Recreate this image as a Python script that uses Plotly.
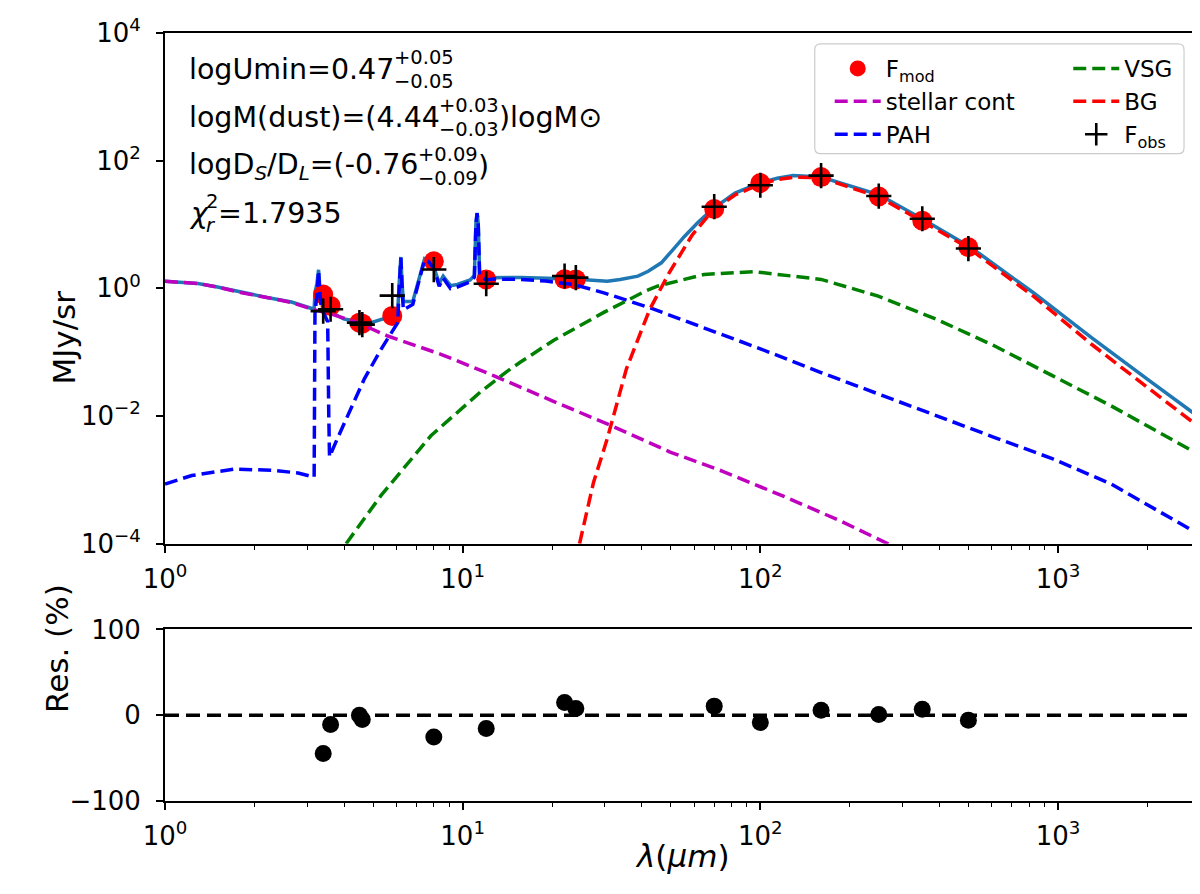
import numpy as np
import plotly.graph_objects as go

# photometry: band wavelengths (micron), model and observed fluxes (MJy/sr)
lam_obs = [3.4, 3.6, 4.5, 4.6, 5.8, 8.0, 12.0, 22.0, 24.0, 70.0, 100.0, 160.0, 250.0, 350.0, 500.0]
f_mod = [0.80, 0.53, 0.29, 0.28, 0.37, 2.66, 1.38, 1.39, 1.38, 17.5, 44.6, 55.3, 27.5, 11.5, 4.40]
f_obs = [0.44, 0.47, 0.29, 0.27, 0.77, 1.97, 1.18, 1.56, 1.47, 19.0, 41.2, 58.3, 27.9, 12.3, 4.20]

# residuals (%)
lam_res = [3.4, 3.6, 4.5, 4.6, 8.0, 12.0, 22.0, 24.0, 70.0, 100.0, 160.0, 250.0, 350.0, 500.0]
res_pct = [-44.5, -10.7, 0.0, -4.9, -25.5, -15.4, 14.9, 7.9, 10.6, -8.6, 5.9, 0.8, 7.1, -5.9]

# model components
lam_star = [1.0, 1.29, 1.5, 1.81, 2.2, 2.66, 3.18, 3.6, 4.44, 5.6, 8.45, 12.75, 20.0, 30.6, 50.0, 75.1, 120.0,
            184.6, 264.6, 300.0]
f_star = [1.29, 1.19, 1.05, 0.85, 0.72, 0.60, 0.46, 0.40, 0.29, 0.179, 0.0927, 0.0426, 0.0173, 0.0075, 0.0027,
          0.00135, 0.00055, 0.00023, 0.000103, 0.00008]

lam_pah = [1.0, 1.23, 1.72, 2.34, 2.8, 3.1, 3.17, 3.18, 3.19, 3.24, 3.28, 3.31, 3.35, 3.45, 3.52, 3.55, 3.57,
           3.8, 4.11, 4.67, 5.32, 6.05, 6.12, 6.2, 6.26, 6.32, 6.8, 7.15, 7.45, 7.7, 8.03, 8.34, 8.6, 9.1, 9.6,
           10.6, 10.95, 11.08, 11.18, 11.28, 11.4, 12.0, 12.7, 15.6, 19.0, 23.6, 29.8, 42.5, 64.7, 101.0,
           160.0, 249.0, 391.0, 613.0, 961.0, 1505.0, 3090.0]
f_pah = [8.6e-4, 1.17e-3, 1.48e-3, 1.40e-3, 1.28e-3, 1.14e-3, 1.1e-3, 0.02, 0.40, 0.8, 1.9, 0.9, 0.5, 0.37,
         0.30, 0.01, 2.3e-3, 4.5e-3, 0.0101, 0.0378, 0.111, 0.29, 1.0, 3.0, 1.0, 0.46, 0.56, 1.3, 2.8, 2.6,
         1.97, 1.08, 1.46, 0.99, 1.05, 1.26, 1.5, 10.0, 15.0, 10.0, 1.6, 1.35, 1.4, 1.38, 1.3, 1.15, 0.85,
         0.497, 0.242, 0.111, 0.048, 0.022, 0.0101, 0.0046, 0.00213, 8.65e-4, 1.27e-4]

lam_vsg = [4.06, 5.32, 7.82, 11.5, 14.1, 15.65, 20.3, 29.8, 41.6, 45.1, 64.7, 95.5, 160.0, 249.0, 391.0,
           613.0, 961.0, 1505.0, 3090.0]
f_vsg = [1e-4, 5.7e-4, 4.9e-3, 0.024, 0.050, 0.070, 0.155, 0.42, 0.93, 1.08, 1.65, 1.82, 1.38, 0.755,
         0.327, 0.125, 0.0425, 0.0145, 0.00226]

lam_bg = [24.7, 27.5, 30.6, 35.5, 42.5, 49.4, 59.1, 69.1, 82.2, 100.0, 115.0, 130.0, 160.0, 250.0, 350.0,
          500.0, 827.0, 1296.0, 2032.0, 3090.0]
f_bg = [1e-4, 9e-4, 0.0044, 0.055, 0.468, 1.75, 6.9, 16.5, 29.0, 43.0, 51.0, 55.0, 54.0, 27.0, 11.2, 4.3,
        0.755, 0.133, 0.0264, 0.0059]

lam_tot = [1.0, 1.29, 1.5, 1.81, 2.2, 2.66, 3.0, 3.17, 3.19, 3.24, 3.28, 3.31, 3.36, 3.45, 3.6, 4.0, 4.5,
           4.92, 5.6, 6.05, 6.12, 6.2, 6.26, 6.32, 6.8, 7.15, 7.45, 7.7, 8.03, 8.34, 8.6, 9.1, 9.6, 10.6,
           10.95, 11.08, 11.18, 11.28, 11.4, 12.1, 15.65, 23.6, 30.6, 33.8, 38.8, 42.0, 46.5, 50.9, 55.6,
           61.8, 69.1, 82.2, 99.2, 114.0, 128.8, 159.9, 251.0, 354.0, 507.0, 827.0, 1296.0, 2032.0, 3090.0]
f_tot = [1.29, 1.19, 1.05, 0.86, 0.72, 0.61, 0.50, 0.47, 0.85, 1.2, 1.95, 1.1, 0.75, 0.55, 0.42, 0.33, 0.30,
         0.29, 0.35, 0.42, 1.2, 3.1, 1.2, 0.62, 0.62, 1.4, 2.9, 2.7, 2.05, 1.2, 1.55, 1.1, 1.15, 1.35, 1.6,
         10.5, 15.2, 10.5, 1.7, 1.46, 1.48, 1.40, 1.29, 1.38, 1.55, 1.85, 2.51, 4.05, 6.5, 10.8, 17.5, 31.1,
         44.6, 53.0, 58.6, 55.3, 29.2, 11.9, 4.46, 0.853, 0.169, 0.0355, 0.00844]

xticks = [1, 10, 100, 1000]
xtick_text = ["10<sup>0</sup>", "10<sup>1</sup>", "10<sup>2</sup>", "10<sup>3</sup>"]
yticks = [1e-4, 1e-2, 1, 1e2, 1e4]
ytick_text = ["10<sup>\u22124</sup>", "10<sup>\u22122</sup>", "10<sup>0</sup>", "10<sup>2</sup>", "10<sup>4</sup>"]

# page geometry (pixels)
W, H = 1200, 894
L, R, T, B = 157, 6, 23, 101
pw = W - L - R
ph = H - T - B
def px(x): return (x - L) / pw
def py(y): return (H - B - y) / ph

FONT = "DejaVu Sans"
fs_tick = 26
fs_title = 31
fs_leg = 23
fs_txt = 28.5
fs_scr = 19.5

dash = "13px,6px"
fig = go.Figure()

fig.add_trace(go.Scatter(x=lam_tot, y=f_tot, mode="lines", line=dict(color="#1f77b4", width=3.5),
                         showlegend=False))
fig.add_trace(go.Scatter(x=lam_obs, y=f_mod, mode="markers", name="F<sub>mod</sub>",
                         marker=dict(color="#ff0000", size=20), legend="legend"))
fig.add_trace(go.Scatter(x=lam_star, y=f_star, mode="lines", name="stellar cont",
                         line=dict(color="#bf00bf", width=3.5, dash=dash), legend="legend"))
fig.add_trace(go.Scatter(x=lam_pah, y=f_pah, mode="lines", name="PAH",
                         line=dict(color="#0000ff", width=3.5, dash=dash), legend="legend"))
fig.add_trace(go.Scatter(x=lam_vsg, y=f_vsg, mode="lines", name="VSG",
                         line=dict(color="#008000", width=3.5, dash=dash), legend="legend2"))
fig.add_trace(go.Scatter(x=lam_bg, y=f_bg, mode="lines", name="BG",
                         line=dict(color="#ff0000", width=3.5, dash=dash), legend="legend2"))
fig.add_trace(go.Scatter(x=lam_obs, y=f_obs, mode="markers", name="F<sub>obs</sub>",
                         marker=dict(symbol="cross-thin", size=18, line=dict(color="black", width=2.6)),
                         legend="legend2"))
fig.add_trace(go.Scatter(x=lam_res, y=res_pct, mode="markers", xaxis="x2", yaxis="y2", showlegend=False,
                         marker=dict(color="black", size=17)))

axis_common = dict(showline=True, linecolor="black", linewidth=2, mirror=True, ticks="outside",
                   ticklen=7, tickwidth=1.8, tickcolor="black", showgrid=False, zeroline=False,
                   tickfont=dict(family=FONT, size=fs_tick, color="black"))
xaxis_common = dict(axis_common, type="log", range=[0, np.log10(3000)], tickvals=xticks, ticktext=xtick_text,
                    ticklabelstandoff=4,
                    minor=dict(ticks="outside", ticklen=4, tickwidth=1.3, tickcolor="black", dtick="D1",
                               showgrid=False))
legend_common = dict(xanchor="left", yanchor="top", bgcolor="rgba(0,0,0,0)", itemwidth=46,
                     font=dict(family=FONT, size=fs_leg), itemsizing="trace", tracegroupgap=0)

fig.update_layout(
    width=W, height=H, margin=dict(l=L, r=R, t=T, b=B),
    paper_bgcolor="white", plot_bgcolor="white",
    font=dict(family=FONT, color="black"),
    xaxis=dict(xaxis_common, domain=[0, 1], anchor="y"),
    yaxis=dict(axis_common, domain=[py(535), 1], anchor="x", type="log", range=[-4, 4],
               tickvals=yticks, ticktext=ytick_text, ticklabelstandoff=10),
    xaxis2=dict(xaxis_common, domain=[0, 1], anchor="y2"),
    yaxis2=dict(axis_common, domain=[0, py(621)], anchor="x2", range=[-100, 100],
                tickvals=[-100, 0, 100], ticktext=["\u2212100", "0", "100"], ticklabelstandoff=10),
    legend=dict(legend_common, x=px(823), y=py(37)),
    legend2=dict(legend_common, x=px(1062), y=py(37)),
)

# zero line in residual panel
fig.add_shape(type="line", xref="x2 domain", yref="y2", x0=0, x1=1, y0=0, y1=0, layer="below",
              line=dict(color="black", width=3.5, dash="14px,7px"))

# legend frame with rounded corners
x0, x1, y0, y1, r = 808, 1178, 34, 144, 6
rx, ry = r / pw, r / ph
X0, X1, Y0, Y1 = px(x0), px(x1), py(y0), py(y1)
frame = (f"M {X0+rx},{Y0} L {X1-rx},{Y0} Q {X1},{Y0} {X1},{Y0-ry} L {X1},{Y1+ry} Q {X1},{Y1} {X1-rx},{Y1} "
         f"L {X0+rx},{Y1} Q {X0},{Y1} {X0},{Y1+ry} L {X0},{Y0-ry} Q {X0},{Y0} {X0+rx},{Y0} Z")
fig.add_shape(type="path", path=frame, xref="paper", yref="paper", layer="above",
              fillcolor="rgba(255,255,255,0.8)", line=dict(color="#cccccc", width=1.2))

# text block with stacked scripts
cw = {'l': 0.278, 'o': 0.612, 'g': 0.635, 'U': 0.732, 'm': 0.974, 'i': 0.278, 'n': 0.634, '=': 0.838,
      '.': 0.318, 'M': 0.863, '(': 0.390, ')': 0.390, 'd': 0.635, 'u': 0.634, 's': 0.521, 't': 0.392,
      'D': 0.770, 'S': 0.635, '/': 0.337, 'L': 0.557, '-': 0.361, '+': 0.838, '\u2212': 0.838, 'r': 0.411,
      '\u03c7': 0.6}
for d in "0123456789":
    cw[d] = 0.636
def tw(s, size):
    return sum(cw[c] for c in s) * size

def txt(x, y, s, size, anchor="left"):
    fig.add_annotation(x=px(x), y=py(y), xref="paper", yref="paper", text=s, showarrow=False, borderpad=0,
                       xanchor=anchor, yanchor="middle", font=dict(family=FONT, size=size, color="black"))

x_start = 180
rows = [60, 108, 157, 204]
scr_up, scr_dn = -12, 12

# line 1
xs = x_start + tw("logUmin=0.47", fs_txt)
txt(x_start, rows[0], "logUmin=0.47", fs_txt)
txt(xs, rows[0] + scr_up, "+0.05", fs_scr)
txt(xs, rows[0] + scr_dn, "\u22120.05", fs_scr)
# line 2
xs = x_start + tw("logM(dust)=(4.44", fs_txt)
txt(x_start, rows[1], "logM(dust)=(4.44", fs_txt)
txt(xs, rows[1] + scr_up, "+0.03", fs_scr)
txt(xs, rows[1] + scr_dn, "\u22120.03", fs_scr)
txt(xs + tw("+0.03", fs_scr), rows[1], ")logM\u2299", fs_txt)
# line 3
xs = x_start + tw("logD/D=(-0.76", fs_txt) + tw("SL", 0.7 * fs_txt)
txt(x_start, rows[2], "logD<sub><i>S</i></sub>/D<sub><i>L</i></sub>=(-0.76", fs_txt)
txt(xs, rows[2] + scr_up, "+0.09", fs_scr)
txt(xs, rows[2] + scr_dn, "\u22120.09", fs_scr)
txt(xs + tw("+0.09", fs_scr), rows[2], ")", fs_txt)
# line 4
xs = x_start + tw("\u03c7", fs_txt)
txt(x_start, rows[3], "<i>\u03c7</i>", fs_txt)
txt(xs, rows[3] + scr_up, "2", fs_scr)
txt(xs, rows[3] + scr_dn, "<i>r</i>", fs_scr)
txt(xs + tw("2", fs_scr), rows[3], "=1.7935", fs_txt)

# axis titles
fig.add_annotation(x=px(36), y=py(279), xref="paper", yref="paper", text="MJy/sr", textangle=-90,
                   showarrow=False, font=dict(family=FONT, size=fs_title))
fig.add_annotation(x=px(28), y=py(707), xref="paper", yref="paper", text="Res. (%)", textangle=-90,
                   showarrow=False, font=dict(family=FONT, size=fs_title))
fig.add_annotation(x=px(675), y=py(868), xref="paper", yref="paper", text="<i>\u03bb</i>(<i>\u03bcm</i>)",
                   showarrow=False, font=dict(family=FONT, size=fs_title))

fig.write_html("out.html")
